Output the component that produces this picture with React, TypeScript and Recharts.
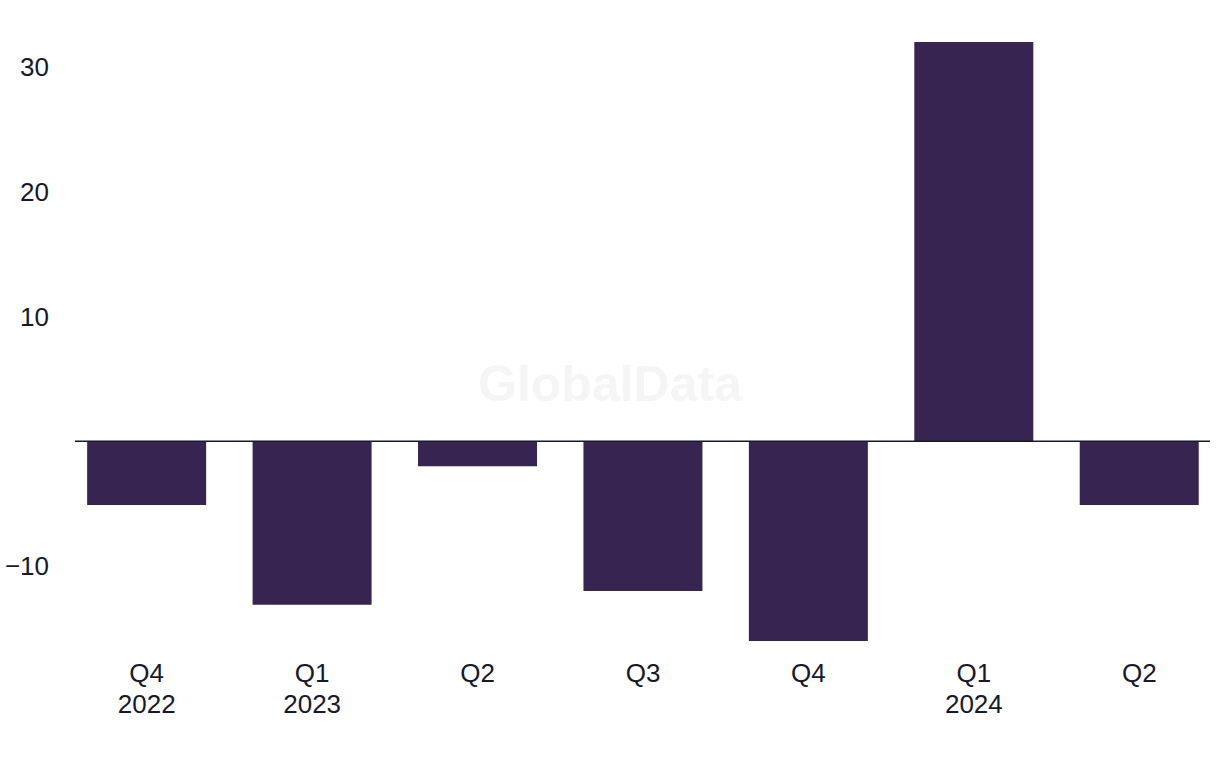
import React from "react";
import { BarChart, Bar, XAxis, YAxis, ReferenceLine } from "recharts";

const quarters = ["Q4", "Q1", "Q2", "Q3", "Q4", "Q1", "Q2"];
const years = ["2022", "2023", "", "", "", "2024", ""];
const values = [-5.1, -13.1, -2.0, -12.0, -16.0, 32.0, -5.1];
const yTicks = [-10, 10, 20, 30];

const data = quarters.map((q, i) => ({ key: `${q}-${i}`, quarter: q, year: years[i], value: values[i] }));

const INK = "#16182b";
const FONT = "'Liberation Sans', Arial, sans-serif";

function QuarterTick(props: any) {
  const { x, y, payload } = props;
  const row = data[payload.index];
  return (
    <text x={x} y={y} textAnchor="middle" fill={INK} fontSize={26} fontFamily={FONT}>
      <tspan x={x} dy={41}>{row.quarter}</tspan>
      {row.year ? <tspan x={x} dy={31}>{row.year}</tspan> : null}
    </text>
  );
}

export default function App() {
  return (
    <div style={{ position: "absolute", left: 0, top: 0, width: 1220, height: 768, overflow: "hidden", background: "#fff" }}>
      <svg width={1220} height={768} style={{ position: "absolute", left: 0, top: 0 }}>
        <text x={610} y={401} textAnchor="middle" fill="#f5f5f5" fontSize={50} fontWeight={700} fontFamily={FONT}>
          GlobalData
        </text>
      </svg>
      <div style={{ position: "absolute", left: 0, top: 0 }}>
        <BarChart
          width={1220}
          height={768}
          data={data}
          margin={{ top: 42, right: 10, bottom: 97, left: 0 }}
          barCategoryGap="14%"
        >
          <XAxis
            dataKey="key"
            height={30}
            axisLine={false}
            tickLine={false}
            tickSize={0}
            tickMargin={0}
            interval={0}
            padding={{ left: -11, right: -12 }}
            tick={<QuarterTick />}
          />
          <YAxis
            width={75}
            domain={[-16, 32]}
            ticks={yTicks}
            axisLine={false}
            tickLine={false}
            tickSize={0}
            tickMargin={26}
            tick={{ fill: INK, fontSize: 26, fontFamily: FONT }}
            tickFormatter={(v: number) => (v < 0 ? `\u2212${Math.abs(v)}` : `${v}`)}
          />
          <Bar dataKey="value" fill="#372451" isAnimationActive={false} />
          <ReferenceLine y={0} stroke={INK} strokeWidth={1.5} />
        </BarChart>
      </div>
    </div>
  );
}
